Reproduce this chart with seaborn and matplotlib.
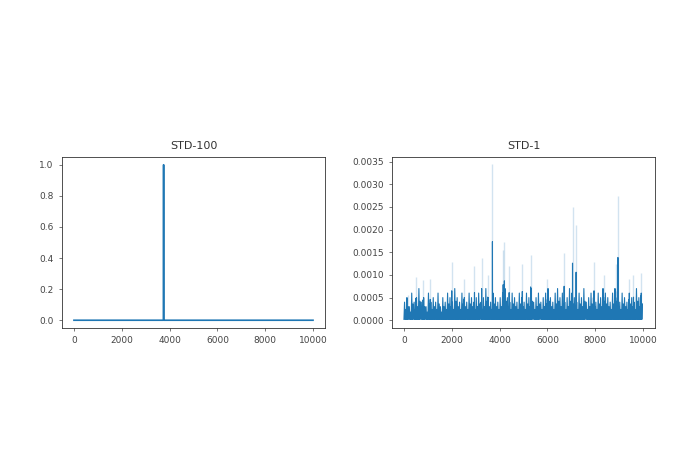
import matplotlib
matplotlib.use("Agg")
import matplotlib.pyplot as plt
import seaborn as sns
import numpy as np
import pandas as pd

left_x = [0, 3740, 3750, 3760, 9999]
left_y = [0.0, 0.0, 1.0, 0.0, 0.0]

# major spikes (x, value)
spike_x = [150, 500, 800, 1100, 2000, 2500, 2950, 3250, 3500, 3700, 4150, 4200, 4400,
           4950, 5300, 6000, 6700, 7050, 7200, 7950, 8350, 8850, 8950, 9400, 9600, 9900]
spike_y = [0.00055, 0.00095, 0.00088, 0.0009, 0.00128, 0.0009, 0.0012, 0.00138, 0.001,
           0.00345, 0.00155, 0.00172, 0.0012, 0.00125, 0.00145, 0.0009, 0.00148, 0.0025,
           0.0021, 0.00128, 0.001, 0.00125, 0.00275, 0.0009, 0.001, 0.00105]
# background band peaks, every 100 steps
band_y = [0.0004, 0.0005, 0.0003, 0.0006, 0.0004, 0.0005, 0.0007, 0.0004, 0.0005, 0.0003,
          0.0006, 0.0004, 0.0005, 0.0004, 0.0006, 0.0003, 0.0005, 0.0004, 0.0006, 0.0005,
          0.0004, 0.0007, 0.0005, 0.0004, 0.0006, 0.0005, 0.0004, 0.0006, 0.0005, 0.0004,
          0.0005, 0.0006, 0.0004, 0.0005, 0.0007, 0.0005, 0.0004, 0.0006, 0.0005, 0.0004,
          0.0005, 0.0006, 0.0007, 0.0005, 0.0004, 0.0006, 0.0005, 0.0004, 0.0006, 0.0005,
          0.0004, 0.0006, 0.0005, 0.0007, 0.0004, 0.0005, 0.0006, 0.0004, 0.0005, 0.0006,
          0.0007, 0.0005, 0.0004, 0.0006, 0.0007, 0.0005, 0.0006, 0.0004, 0.0005, 0.0007,
          0.0006, 0.0005, 0.0004, 0.0006, 0.0005, 0.0007, 0.0004, 0.0005, 0.0006, 0.0005,
          0.0004, 0.0006, 0.0005, 0.0007, 0.0006, 0.0005, 0.0004, 0.0006, 0.0007, 0.0005,
          0.0004, 0.0006, 0.0005, 0.0004, 0.0006, 0.0005, 0.0004, 0.0007, 0.0005, 0.0006]

# build right series: band peaks interleaved with near-zero troughs, plus spikes
pts = []
for i, v in enumerate(band_y):
    x0 = i * 100
    pts += [(x0, 0.00002), (x0 + 25, v), (x0 + 50, 0.00002), (x0 + 75, v * 0.6)]
for x, v in zip(spike_x, spike_y):
    pts += [(x - 5, 0.00002), (x, v), (x + 5, 0.00002)]
pts.sort()
right = pd.DataFrame(pts, columns=["x", "y"])

fig = plt.figure(figsize=(7, 4.67), dpi=100)
ax1 = fig.add_axes([62/700, 1-328/467, 263/700, 171/467])
ax2 = fig.add_axes([392/700, 1-328/467, 263/700, 171/467])
c = "#1f77b4"
sns.lineplot(x=left_x, y=left_y, ax=ax1, color=c, linewidth=1.2)
sns.lineplot(data=right, x="x", y="y", ax=ax2, color=c, linewidth=0.8, sort=False)
ax1.set_title("STD-100", fontsize=8, color="#333333")
ax2.set_title("STD-1", fontsize=8, color="#333333")
ax1.set_xticks([0, 2000, 4000, 6000, 8000, 10000])
ax2.set_xticks([0, 2000, 4000, 6000, 8000, 10000])
ax1.set_yticks([0, 0.2, 0.4, 0.6, 0.8, 1.0])
ax2.set_ylim(-0.00017, 0.0036)
ax1.set_ylim(-0.05, 1.05)
for ax in (ax1, ax2):
    ax.set_xlim(-500, 10500)
    ax.set_xlabel("")
    ax.set_ylabel("")
    ax.tick_params(labelsize=6.5, colors="#444444", length=2.5, width=0.5)
    for s in ax.spines.values():
        s.set_linewidth(0.6)
        s.set_color("#333333")
fig.savefig("out.png", dpi=100)
